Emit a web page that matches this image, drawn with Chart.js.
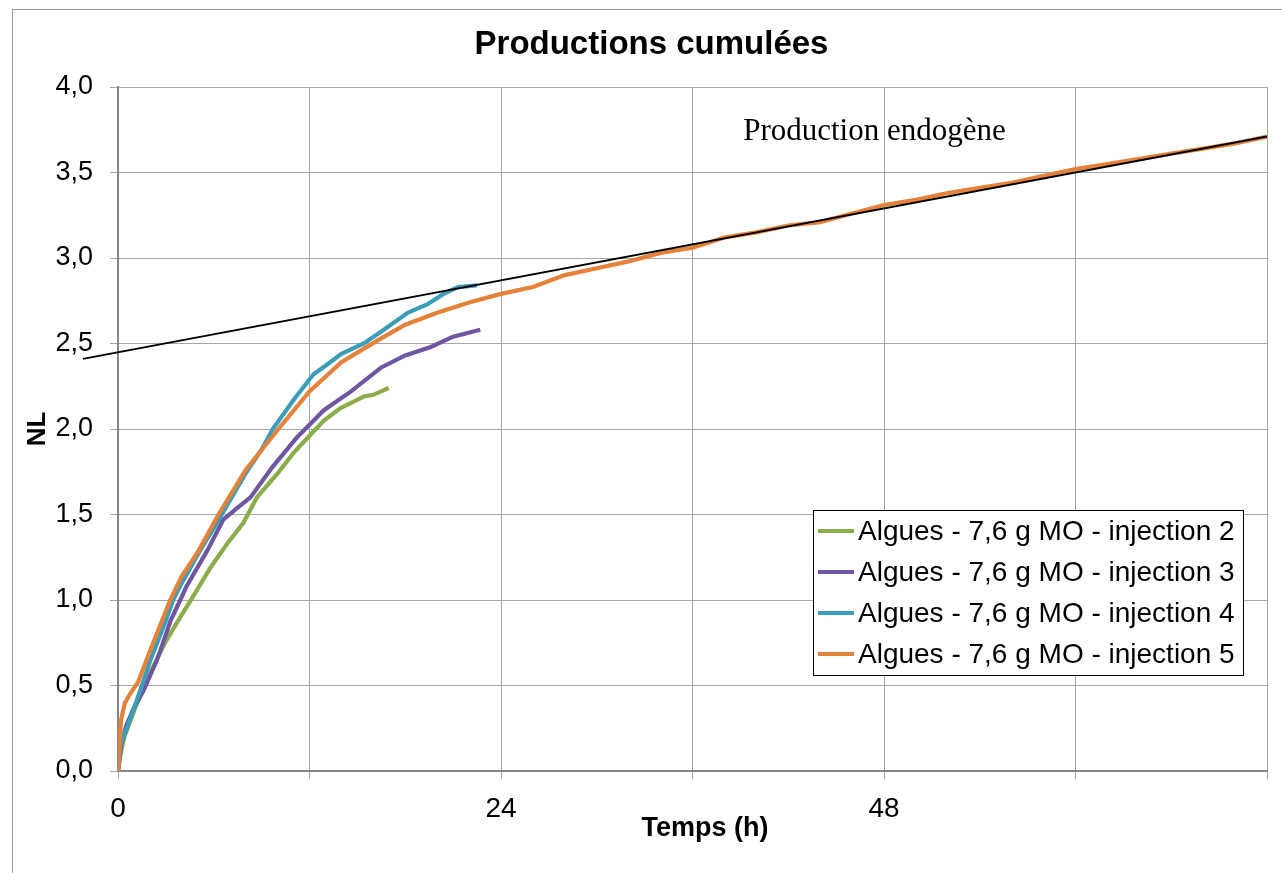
<!DOCTYPE html>
<html>
<head>
<meta charset="utf-8">
<script src="https://cdn.jsdelivr.net/npm/chart.js@4/dist/chart.umd.min.js"></script>
<style>
  html, body { margin: 0; padding: 0; background: #fff; }
  #wrap { width: 1282px; height: 873px; }
</style>
</head>
<body>
<div id="wrap"><canvas id="chartjs-0" width="1282" height="873"></canvas></div>
<script>
"use strict";

// data (time in h, NL)
var seriesNames = ["Algues - 7,6 g MO - injection 2", "Algues - 7,6 g MO - injection 3",
                   "Algues - 7,6 g MO - injection 4", "Algues - 7,6 g MO - injection 5"];
var seriesColors = ["#8aac4a", "#6f56a0", "#3b9db9", "#e4823a"];

var t2 = [0, 0.15, 0.4, 0.8, 1.2, 1.7, 2.2, 2.95, 3.9, 4.7, 5.8, 6.85, 7.85, 8.7, 10.0, 11.0, 11.9, 12.9, 13.9, 15.4, 16.0, 16.96];
var v2 = [0, 0.1, 0.2, 0.3, 0.4, 0.5, 0.61, 0.75, 0.9, 1.02, 1.19, 1.33, 1.45, 1.6, 1.74, 1.86, 1.95, 2.05, 2.12, 2.19, 2.2, 2.24];

var t3 = [0, 0.2, 0.5, 0.95, 1.6, 2.45, 3.3, 4.3, 5.6, 6.6, 7.5, 8.3, 9.7, 11.2, 12.9, 14.6, 16.5, 18.0, 19.6, 21.0, 22.7];
var v3 = [0, 0.15, 0.26, 0.36, 0.47, 0.65, 0.88, 1.08, 1.29, 1.47, 1.54, 1.60, 1.78, 1.95, 2.11, 2.22, 2.36, 2.43, 2.48, 2.54, 2.58];

var t4 = [0, 0.15, 0.6, 1.2, 1.5, 2, 3, 3.45, 4, 5.15, 6.2, 7, 8, 9, 9.7, 11, 12.25, 13, 14, 15.4, 16.5, 18.15, 19.4, 20.4, 21.3, 22.5];
var v4 = [0, 0.15, 0.26, 0.42, 0.5, 0.64, 0.88, 1.0, 1.1, 1.29, 1.45, 1.58, 1.74, 1.88, 2.0, 2.17, 2.32, 2.37, 2.44, 2.5, 2.57, 2.68, 2.73, 2.79, 2.83, 2.84];

var t5 = [0, 0.1, 0.19, 0.44, 0.75, 1.26, 2, 3.27, 4, 5, 6.3, 8, 10.05, 12, 14, 16.3, 18, 20, 22, 24, 26, 28, 30, 32, 34, 36,
          38, 40, 42, 44, 46, 48, 50, 52, 54, 56, 58, 60, 62, 64, 66, 68, 70, 72];
var v5 = [0, 0.15, 0.3, 0.4, 0.45, 0.52, 0.7, 1.0, 1.14, 1.28, 1.5, 1.76, 2.0, 2.22, 2.39, 2.52, 2.61, 2.68, 2.74, 2.79, 2.83, 2.9, 2.94, 2.98, 3.03, 3.06,
          3.12, 3.15, 3.19, 3.21, 3.26, 3.31, 3.34, 3.38, 3.41, 3.44, 3.48, 3.52, 3.55, 3.58, 3.61, 3.64, 3.67, 3.71];

// "Production endogène" straight line
var endoT = [-2.2, 72];
var endoV = [2.41, 3.71];

var xTickLabels = [0, 24, 48];

function pts(t, v) {
    return t.map(function (x, i) { return { x: x, y: v[i] }; });
}

var allT = [t2, t3, t4, t5];
var allV = [v2, v3, v4, v5];

var datasets = [{
    label: "Production endogène",
    data: pts(endoT, endoV),
    borderColor: "#000000",
    borderWidth: 2,
    pointRadius: 0,
    clip: false,
    order: 0
}];
for (var k = 0; k < 4; k++) {
    datasets.push({
        label: seriesNames[k],
        data: pts(allT[k], allV[k]),
        borderColor: seriesColors[k],
        borderWidth: 4.2,
        pointRadius: 0,
        tension: 0,
        order: 4 - k + 1
    });
}

var extras = {
    id: "extras",
    beforeDraw: function (chart) {
        var c = chart.ctx;
        c.save();
        c.fillStyle = "#ffffff";
        c.fillRect(0, 0, chart.width, chart.height);
        c.strokeStyle = "#9a9a9a";
        c.lineWidth = 1;
        c.strokeRect(12.5, 9.5, 1400, 1000);
        c.restore();
    },
    afterDraw: function (chart) {
        var c = chart.ctx;
        var xs = chart.scales.x, ys = chart.scales.y;
        var a = chart.chartArea;
        c.save();
        c.fillStyle = "#000";
        c.textAlign = "center";
        c.textBaseline = "middle";

        // x axis title (Excel puts it a bit right of centre)
        c.font = "bold 27px 'Liberation Sans', Arial, sans-serif";
        c.fillText("Temps (h)", a.left + 587, a.bottom + 58);

        // label of the black line
        c.font = "31px 'Liberation Serif', serif";
        c.fillText("Production endogène", xs.getPixelForValue(47.4), ys.getPixelForValue(3.74));

        // legend box
        var bx = a.left + 695, by = a.top + 423, bw = 430, bh = 165;
        c.fillStyle = "#fff";
        c.fillRect(bx, by, bw, bh);
        c.strokeStyle = "#000";
        c.lineWidth = 1;
        c.strokeRect(bx + 0.5, by + 0.5, bw, bh);
        c.font = "28px 'Liberation Sans', Arial, sans-serif";
        c.textAlign = "left";
        for (var i = 0; i < 4; i++) {
            var yy = by + 21 + i * 41;
            c.strokeStyle = seriesColors[i];
            c.lineWidth = 4;
            c.beginPath();
            c.moveTo(bx + 5, yy);
            c.lineTo(bx + 41, yy);
            c.stroke();
            c.fillStyle = "#000";
            c.fillText(seriesNames[i], bx + 45, yy + 1);
        }
        c.restore();
    }
};

var ctx0 = document.getElementById("chartjs-0");
var myChart = new Chart(ctx0, {
    type: "line",
    data: { datasets: datasets },
    plugins: [extras],
    options: {
        responsive: false,
        animation: false,
        layout: { padding: { left: 36, right: 15, top: 0, bottom: 0 } },
        plugins: {
            legend: { display: false },
            tooltip: { enabled: false },
            title: {
                display: true,
                text: "Productions cumulées",
                color: "#000",
                font: { family: "'Liberation Sans', Arial, sans-serif", size: 33, weight: "bold", lineHeight: 1.2 },
                padding: { top: 25.2, bottom: 22.2 }
            }
        },
        scales: {
            x: {
                type: "linear",
                min: 0,
                max: 72,
                afterFit: function (s) { s.height = 102; },
                grid: { color: "#a6a6a6", lineWidth: 1, tickLength: 8, tickColor: "#a6a6a6" },
                border: { color: "#868686", width: 2 },
                ticks: {
                    stepSize: 12,
                    autoSkip: false,
                    maxRotation: 0,
                    padding: 13,
                    color: "#000",
                    font: { family: "'Liberation Sans Narrow', 'Liberation Sans', sans-serif", size: 28 },
                    callback: function (v) { return xTickLabels.indexOf(v) >= 0 ? String(v) : ""; }
                }
            },
            y: {
                min: 0,
                max: 4,
                afterFit: function (s) { s.width = 82; },
                grid: { color: "#a6a6a6", lineWidth: 1, tickLength: 8, tickColor: "#a6a6a6" },
                border: { color: "#868686", width: 2 },
                ticks: {
                    stepSize: 0.5,
                    padding: 17,
                    color: "#000",
                    font: { family: "'Liberation Sans', Arial, sans-serif", size: 27 },
                    callback: function (v) { return v.toFixed(1).replace(".", ","); }
                },
                title: {
                    display: true,
                    text: "NL",
                    color: "#000",
                    font: { family: "'Liberation Sans', Arial, sans-serif", size: 26, weight: "bold", lineHeight: 1.2 },
                    padding: { top: -14, bottom: 0 }
                }
            }
        }
    }
});
</script>
</body>
</html>
